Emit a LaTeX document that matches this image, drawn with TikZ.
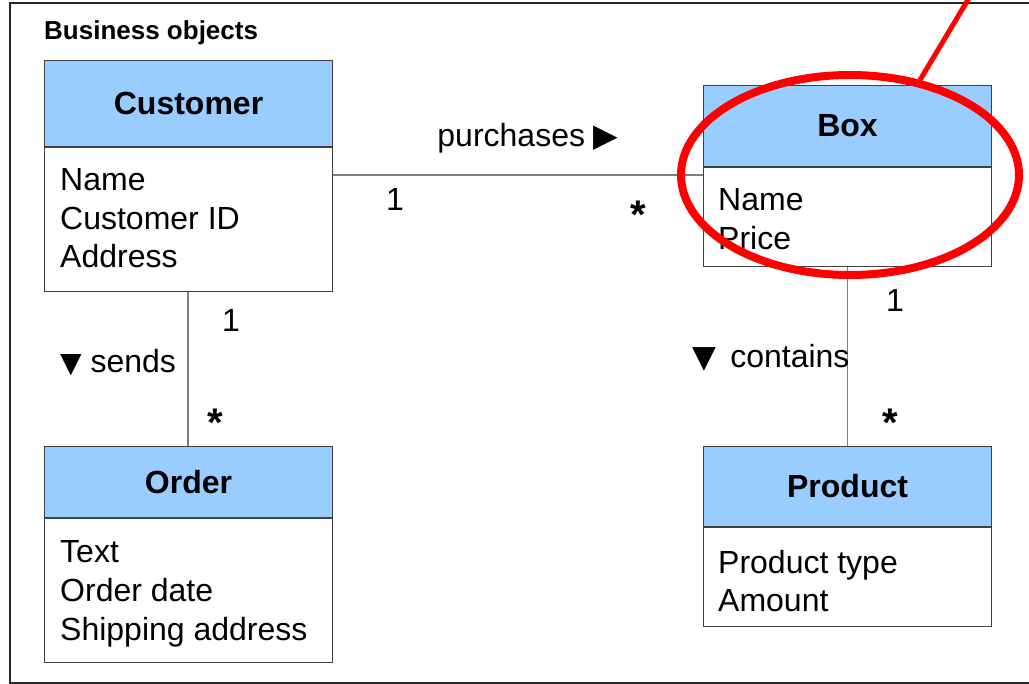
\documentclass[tikz,border=0pt]{standalone}
\usepackage{fontspec}
\setmainfont{Liberation Sans}
\newfontfamily\symfont{DejaVu Sans}
\definecolor{hdrblue}{HTML}{99CCFF}
\definecolor{boxline}{HTML}{404040}
\definecolor{conn}{HTML}{808080}
\definecolor{ringred}{HTML}{FF0000}
\begin{document}
\begin{tikzpicture}[x=1pt,y=-1pt,
  hdr/.style={draw=boxline, line width=1.1pt, fill=hdrblue, minimum width=288pt,
    anchor=north west, inner sep=0pt, font=\fontsize{32}{38}\selectfont\bfseries},
  bodyb/.style={draw=boxline, line width=1.1pt, fill=white, minimum width=288pt,
    anchor=north west, inner sep=0pt},
  attr/.style={anchor=base west, inner sep=0pt, font=\fontsize{32}{38}\selectfont},
  lbl/.style={inner sep=0pt, font=\fontsize{32}{38}\selectfont},
  mult/.style={inner sep=0pt, font=\fontsize{40}{40}\selectfont\bfseries},
  connector/.style={draw=conn, line width=1.6pt}]
\useasboundingbox (0,0) rectangle (1029,684);
\clip (0,0) rectangle (1029,684);
\fill[white] (0,0) rectangle (1029,684);
% frame
\draw[line width=2.5pt, black!85] (10,3) rectangle (1060,683);
\node[anchor=west, inner sep=0pt, font=\fontsize{26}{30}\selectfont\bfseries] (title) at (44,33) {Business objects};
% Customer
\node[hdr, minimum height=86pt] (custh) at (44,60) {Customer};
\node[bodyb, minimum height=144pt] (custb) at (custh.south west) {};
\node[attr] (c1) at (60,191) {Name};
\node[attr] (c2) at (60,229.5) {Customer ID};
\node[attr] (c3) at (60,268) {Address};
% Order
\node[hdr, minimum height=71pt] (ordh) at (44,446) {Order};
\node[bodyb, minimum height=144pt] (ordb) at (ordh.south west) {};
\node[attr] (o1) at (60,563) {Text};
\node[attr] (o2) at (60,601.5) {Order date};
\node[attr] (o3) at (60,640) {Shipping address};
% Box
\node[hdr, minimum height=81pt] (boxh) at (703,85) {Box};
\node[bodyb, minimum height=99pt] (boxb) at (boxh.south west) {};
\node[attr] (b1) at (718,211) {Name};
\node[attr] (b2) at (718,249.5) {Price};
% Product
\node[hdr, minimum height=80pt] (prodh) at (703,446) {Product};
\node[bodyb, minimum height=99pt] (prodb) at (prodh.south west) {};
\node[attr] (p1) at (718,573) {Product type};
\node[attr] (p2) at (718,611.5) {Amount};
% connectors
\draw[connector] (custb.east |- 0,175) -- (boxb.west |- 0,175);
\draw[connector] (custb.south -| 188,0) -- (ordh.north -| 188,0);
\draw[connector] (boxb.south) -- (prodh.north);
% labels
\node[lbl] (purch) at (528,138) {purchases {\symfont\fontsize{32}{32}\selectfont ▶}};
\node[lbl] (m1) at (395,199) {1};
\node[mult] (m2) at (638,215) {*};
\node[lbl] (m3) at (231,320) {1};
\node[lbl] (sends) at (118,363) {{\symfont\fontsize{28}{30}\selectfont ▼} sends};
\node[mult] (m4) at (215,423) {*};
\node[lbl] (m5) at (895,300) {1};
\node[lbl] (cont) at (771,358) {{\symfont\fontsize{31}{31}\selectfont ▼}\hspace{14pt}contains};
\node[mult] (m6) at (890,423) {*};
% red ring
\draw[ringred, line width=8pt] (850,175) ellipse [x radius=169pt, y radius=100pt];
\coordinate (ringtop) at (920,80);
\coordinate (ringend) at (975,-12);
\draw[ringred, line width=5pt] (ringtop) -- (ringend);
\end{tikzpicture}
\end{document}
